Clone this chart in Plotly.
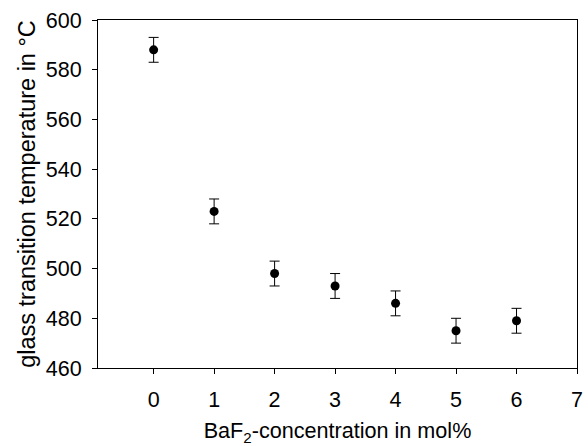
import plotly.graph_objects as go

# BaF2 content (mol%) and measured glass transition temperature (°C)
baf2_mol = [0, 1, 2, 3, 4, 5, 6]
tg_celsius = [588, 523, 498, 493, 486, 475, 479]
tg_error = [5, 5, 5, 5, 5, 5, 5]

x_ticks = [0, 1, 2, 3, 4, 5, 6, 7]
y_ticks = [460, 480, 500, 520, 540, 560, 580, 600]

font_family = "Liberation Sans, Arial, sans-serif"

fig = go.Figure(
    go.Scatter(
        x=baf2_mol,
        y=tg_celsius,
        mode="markers",
        marker=dict(color="black", size=9),
        error_y=dict(type="data", array=tg_error, color="black", thickness=1, width=5),
        showlegend=False,
    )
)

fig.update_layout(
    width=588,
    height=446,
    margin=dict(l=98, r=5, t=20, b=77),
    paper_bgcolor="white",
    plot_bgcolor="white",
    font=dict(family=font_family, size=21, color="black"),
)

fig.update_xaxes(
    range=[-0.92, 7],
    tickvals=x_ticks,
    ticks="outside",
    ticklen=5,
    tickcolor="black",
    tickfont=dict(size=21.5),
    ticklabelstandoff=7,
    ticklabeloverflow="allow",
    showline=True,
    linecolor="black",
    linewidth=1,
    mirror=True,
    showgrid=False,
    zeroline=False,
    title=dict(text="BaF<sub>2</sub>-concentration in mol%", font=dict(size=21.6), standoff=14),
)

fig.update_yaxes(
    range=[460, 600],
    tickvals=y_ticks,
    ticks="outside",
    ticklen=5,
    tickcolor="black",
    tickfont=dict(size=21.5),
    ticklabelstandoff=6,
    showline=True,
    linecolor="black",
    linewidth=1,
    mirror=True,
    showgrid=False,
    zeroline=False,
    title=dict(text="glass transition temperature in °C", font=dict(size=23.5), standoff=3),
)

fig.write_html("out.html")
